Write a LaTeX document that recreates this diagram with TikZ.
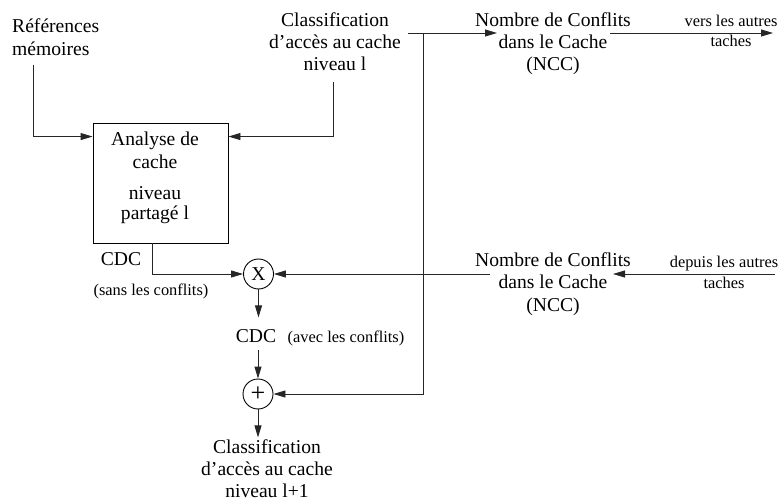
\documentclass[tikz,border=0pt]{standalone}
\usepackage{fontspec}
\setmainfont{Liberation Serif}
\usetikzlibrary{arrows.meta,calc}
\begin{document}
\begin{tikzpicture}[x=1pt,y=-1pt,
  mainfont/.style={font=\fontsize{19.6}{22}\selectfont},
  smallfont/.style={font=\fontsize{16.4}{20.5}\selectfont},
  txt/.style={mainfont, align=center, inner sep=0pt, anchor=base},
  stxt/.style={smallfont, align=center, inner sep=0pt, anchor=base},
  conn/.style={draw=black!85, line width=0.9pt, -{Triangle[length=12pt,width=7pt]}},
  opnode/.style={circle, draw, line width=0.9pt, minimum size=30pt, inner sep=0pt, mainfont},
  boxnode/.style={draw, line width=0.9pt, minimum width=135pt, minimum height=120pt}]
\useasboundingbox (0,0) rectangle (778,502);
% text and nodes (multi-line nodes are placed by the baseline of their last line)
\node[txt, align=left, anchor=base west, font=\fontsize{19.6}{23}\selectfont] (ref) at (12,56) {Références\\mémoires};
\node[boxnode] (box) at (160.5,183) {};
\node[txt, font=\fontsize{19.6}{23}\selectfont] (boxtxt) at (155,220) {Analyse de\\cache\\[8pt]niveau\\[-3pt]partagé l};
\node[txt] (cls1) at (335,71) {Classification\\d'accès au cache\\niveau l};
\node[txt] (ncc1) at (553,71) {Nombre de Conflits\\dans le Cache\\(NCC)};
\node[stxt] (vers) at (731,47) {vers les autres\\taches};
\node[txt] (cdc1) at (121,266) {CDC};
\node[stxt] (sans) at (151,295) {(sans les conflits)};
\node[opnode] (mul) at (258.5,274) {X};
\node[txt] (cdc2) at (256,342) {CDC};
\node[stxt] (avec) at (346,342) {(avec les conflits)};
\node[opnode, font=\fontsize{26}{26}\selectfont] (add) at (258,394) {+};
\node[txt] (cls2) at (267,497) {Classification\\d'accès au cache\\niveau l+1};
\node[txt] (ncc2) at (553,311) {Nombre de Conflits\\dans le Cache\\(NCC)};
\node[stxt] (depuis) at (724,288) {depuis les autres\\taches};
% free ends
\coordinate (refout) at (33,65);
\coordinate (clsout) at (333,82);
\coordinate (bus) at (408,33);
\coordinate (junction) at (423,33);
\coordinate (ncc1in) at (497,33);
\coordinate (ncc1out) at (610,33);
\coordinate (versend) at (773,33);
\coordinate (depstart) at (775,274);
\coordinate (ncc2in) at (613,274);
\coordinate (ncc2out) at (490,274);
% connectors
\draw[conn] (refout) |- ($(box.north west)+(0,14)$);
\draw[conn] (clsout) |- ($(box.north east)+(0,14)$);
\draw[conn] (bus) -- (ncc1in);
\draw[conn] (junction) |- (add.east);
\draw[conn] (ncc1out) -- (versend);
\draw[conn] (depstart) -- (ncc2in);
\draw[conn] (ncc2out) -- (mul.east);
\draw[conn] ($(box.south west)+(60,0)$) |- (mul.west);
\draw[conn] (mul.south) -- ++(0,28);
\draw[conn] ($(cdc2.base)+(2,8)$) -- (add.north);
\draw[conn] (add.south) -- ++(0,28);
\end{tikzpicture}
\end{document}
